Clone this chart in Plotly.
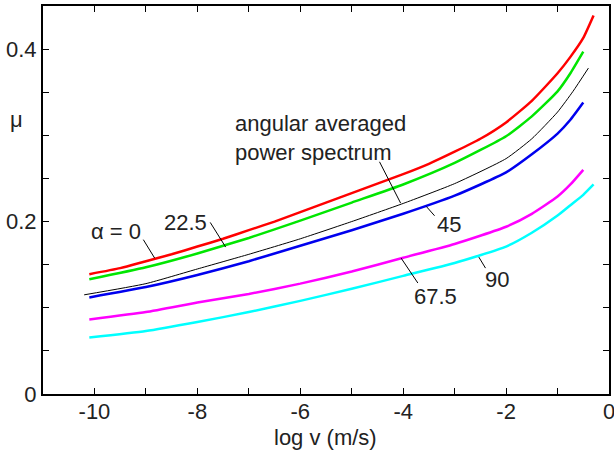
import plotly.graph_objects as go

# ---- data ----
x_red = [-10.1, -9.5, -9, -8.5, -8, -7.5, -7, -6.5, -6, -5.5, -5, -4.5, -4, -3.5, -3, -2.5, -2, -1.5, -1, -0.75, -0.5, -0.3]
y_red = [0.139, 0.146, 0.154, 0.162, 0.171, 0.180, 0.190, 0.200, 0.211, 0.222, 0.233, 0.244, 0.255, 0.267, 0.281, 0.296, 0.315, 0.340, 0.372, 0.391, 0.413, 0.439]

x_green = [-10.1, -9, -8, -7, -6, -5, -4, -3, -2, -1.5, -1, -0.75, -0.5]
y_green = [0.133, 0.147, 0.163, 0.181, 0.201, 0.222, 0.243, 0.268, 0.299, 0.322, 0.351, 0.372, 0.397]

x_avg = [-10.2, -9, -8, -7, -6, -5, -4, -3, -2, -1.5, -1, -0.7, -0.4]
y_avg = [0.115, 0.128, 0.145, 0.162, 0.180, 0.200, 0.221, 0.244, 0.273, 0.296, 0.327, 0.351, 0.378]

x_blue = [-10.1, -9, -8, -7, -6, -5, -4, -3, -2, -1.5, -1, -0.75, -0.5]
y_blue = [0.112, 0.124, 0.138, 0.154, 0.172, 0.190, 0.209, 0.230, 0.257, 0.278, 0.302, 0.318, 0.338]

x_mag = [-10.1, -9, -8, -7, -6, -5, -4, -3, -2, -1.5, -1, -0.75, -0.5]
y_mag = [0.0865, 0.095, 0.106, 0.116, 0.128, 0.142, 0.158, 0.174, 0.194, 0.209, 0.229, 0.243, 0.260]

x_cyan = [-10.1, -9, -8, -7, -6, -5, -4, -3, -2, -1.5, -1, -0.75, -0.5, -0.3]
y_cyan = [0.0654, 0.073, 0.0835, 0.095, 0.108, 0.122, 0.137, 0.152, 0.171, 0.187, 0.207, 0.219, 0.231, 0.243]

x_tickvals = [-10, -9, -8, -7, -6, -5, -4, -3, -2, -1, 0]
x_ticktext = ["-10", "", "-8", "", "-6", "", "-4", "", "-2", "", "0"]
y_tickvals = [0, 0.05, 0.1, 0.15, 0.2, 0.25, 0.3, 0.35, 0.4]
y_ticktext = ["0", "", "", "", "0.2", "", "", "", "0.4"]

# label texts: (text, x, y)
labels = [
    ("\u03b1 = 0", -9.58, 0.1885),
    ("22.5", -8.24, 0.1994),
    ("45", -3.11, 0.1962),
    ("67.5", -3.37, 0.1131),
    ("90", -2.18, 0.1333),
]
avg_label = ("angular averaged<br>power spectrum", -7.30, 0.2967)
# leader lines: (x0, y0, x1, y1)
leaders = [
    (-9.05, 0.179, -8.83, 0.1576),
    (-7.75, 0.199, -7.45, 0.1704),
    (-4.46, 0.2693, -4.05, 0.2214),
    (-3.55, 0.2175, -3.39, 0.2067),
    (-4.04, 0.1576, -3.715, 0.1287),
    (-2.53, 0.1588, -2.40, 0.146),
]

FONT = "Liberation Sans, Arial, Helvetica, sans-serif"
TXT = "#222222"
W, H = 614, 450
L, R, T, B = 43, 4.5, 6, 56
PW, PH = W - L - R, H - T - B

fig = go.Figure()
series = [
    (x_red, y_red, "#ff0000", 2.5),
    (x_green, y_green, "#00e600", 2.5),
    (x_avg, y_avg, "#000000", 1),
    (x_blue, y_blue, "#0000ee", 2.5),
    (x_mag, y_mag, "#ff00ff", 2.5),
    (x_cyan, y_cyan, "#00ffff", 2.5),
]
for xs, ys, c, w in series:
    fig.add_trace(go.Scatter(x=xs, y=ys, mode="lines", line=dict(color=c, width=w, shape="spline", smoothing=0.5),
                             showlegend=False, hoverinfo="skip"))

for (x0, y0, x1, y1) in leaders:
    fig.add_shape(type="line", x0=x0, y0=y0, x1=x1, y1=y1, xref="x", yref="y",
                  line=dict(color="black", width=1))

for t, xx, yy in labels:
    fig.add_annotation(text=t, x=xx, y=yy, xref="x", yref="y", showarrow=False,
                       xanchor="center", yanchor="middle",
                       font=dict(family=FONT, size=22, color=TXT))
fig.add_annotation(text=avg_label[0], x=avg_label[1], y=avg_label[2], xref="x", yref="y",
                   showarrow=False, xanchor="left", yanchor="middle", align="left",
                   font=dict(family=FONT, size=22, color=TXT))
# y-axis title (upright mu) and x-axis title
fig.add_annotation(text="\u03bc", xref="paper", yref="paper",
                   x=(16.5 - L) / PW, y=(H - B - 119.5) / PH, showarrow=False,
                   xanchor="center", yanchor="middle",
                   font=dict(family=FONT, size=22, color=TXT))
fig.add_annotation(text="log v (m/s)", xref="paper", yref="paper",
                   x=(326 - L) / PW, y=(H - B - 437) / PH, showarrow=False,
                   xanchor="center", yanchor="middle",
                   font=dict(family=FONT, size=22, color=TXT))

axis_common = dict(showgrid=False, zeroline=False, showline=True, linecolor="black", linewidth=2,
                   mirror="ticks", ticks="inside", ticklen=6, tickwidth=1, tickcolor="black",
                   automargin=False, ticklabeloverflow="allow",
                   tickfont=dict(family=FONT, size=22, color=TXT))
fig.update_xaxes(range=[-11, 0], tickmode="array", tickvals=x_tickvals, ticktext=x_ticktext,
                 ticklabelstandoff=-3, **axis_common)
fig.update_yaxes(range=[0, 0.45], tickmode="array", tickvals=y_tickvals, ticktext=y_ticktext,
                 **axis_common)
fig.update_layout(width=W, height=H, margin=dict(l=L, r=R, t=T, b=B, autoexpand=False),
                  plot_bgcolor="white", paper_bgcolor="white")
fig.write_html("out.html", config={"displayModeBar": False},
               post_script="document.body.style.margin='0';document.body.style.overflow='hidden';")
